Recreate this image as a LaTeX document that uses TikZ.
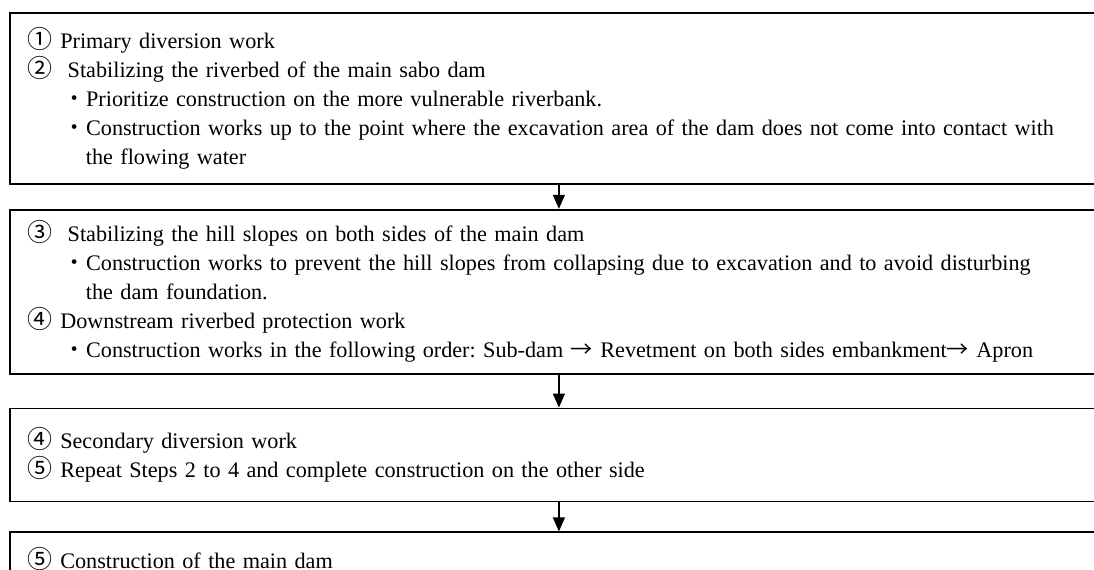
\documentclass[tikz,border=0pt]{standalone}
\usepackage{fontspec}
\setmainfont{Liberation Serif}
\newfontfamily\cjk{Noto Sans CJK JP}
\usetikzlibrary{arrows.meta,positioning}
\tikzset{
  box/.style={draw, line width=0.9pt, align=left, minimum width=549pt,
              text width=531pt, inner xsep=9pt, inner ysep=0pt,
              font=\fontsize{11.1}{14.5}\selectfont\frenchspacing},
  flow/.style={-{Triangle[width=6pt, length=7pt]}, line width=0.6pt},
}
\newcommand{\num}[1]{{\cjk\fontsize{12.5}{14.5}\selectfont #1}}
\newcommand{\bul}{\hspace*{18pt}{\cjk ・}}
\newcommand{\wrapind}{\hspace*{29pt}}
\newcommand{\arr}{{\cjk →}}

\begin{document}
\begin{tikzpicture}[node distance=12pt]
  \useasboundingbox (0,0) rectangle (547pt,-284.5pt);
  \clip (0,0) rectangle (547pt,-284.5pt);
  % First side
  \node[box, minimum height=85.5pt, anchor=north west] (b1) at (4.5pt,-6pt)
    {\num{①} Primary diversion work\\
     \num{②}\ \ Stabilizing the riverbed of the main sabo dam\\
     \bul Prioritize construction on the more vulnerable riverbank.\\
     \bul Construction works up to the point where the excavation area of the dam does not come into contact with\\
     \wrapind the flowing water};
  \node[box, minimum height=82pt, below=12pt of b1] (b2)
    {\num{③}\ \ Stabilizing the hill slopes on both sides of the main dam\\
     \bul Construction works to prevent the hill slopes from collapsing due to excavation and to avoid disturbing\\
     \wrapind the dam foundation.\\
     \num{④} Downstream riverbed protection work\\
     \bul Construction works in the following order: Sub-dam \arr{} Revetment on both sides embankment\arr{} Apron};
  % Other side
  \node[box, minimum height=46.5pt, below=16.5pt of b2] (b3)
    {\num{④} Secondary diversion work\\
     \num{⑤} Repeat Steps 2 to 4 and complete construction on the other side};
  \node[box, minimum height=27pt, below=14.5pt of b3] (b4)
    {\num{⑤} Construction of the main dam};
  \draw[flow] (b1) -- (b2);
  \draw[flow] (b2) -- (b3);
  \draw[flow] (b3) -- (b4);
\end{tikzpicture}
\end{document}
